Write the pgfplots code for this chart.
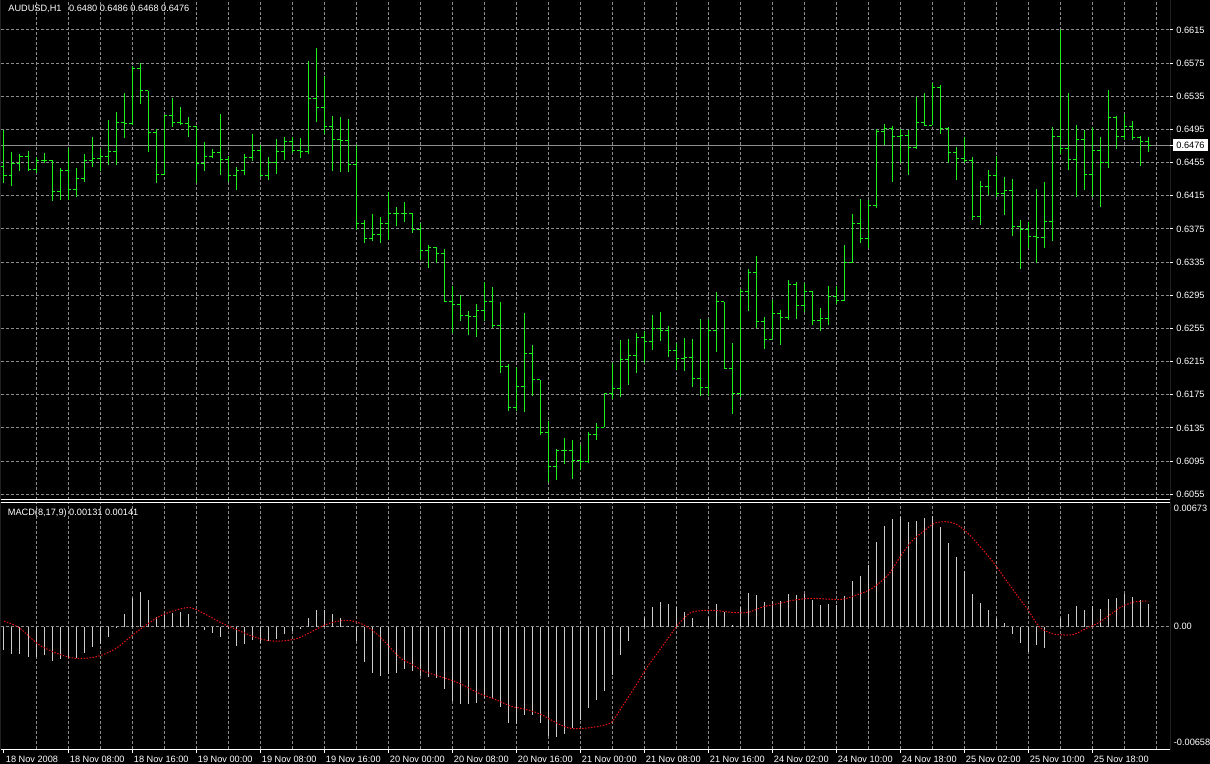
\documentclass[border=0pt]{standalone}
\usepackage{pgfplots}
\pgfplotsset{compat=1.18}
\usepackage{pgfplotstable}
\usepackage{fontspec}
\setmainfont{Liberation Sans}
\definecolor{bargreen}{RGB}{30,240,30}
\definecolor{gridc}{RGB}{140,140,140}
\definecolor{histc}{RGB}{205,205,205}
\definecolor{sigred}{RGB}{235,20,20}
\newcommand{\tfont}{\fontsize{4.6}{5.5}\selectfont}
\pgfdeclareplotmark{otick}{\pgfpathmoveto{\pgfqpoint{-1.5pt}{0pt}}\pgfpathlineto{\pgfqpoint{0pt}{0pt}}\pgfusepathqstroke}
\pgfdeclareplotmark{ctick}{\pgfpathmoveto{\pgfqpoint{0pt}{0pt}}\pgfpathlineto{\pgfqpoint{1.5pt}{0pt}}\pgfusepathqstroke}

\pgfplotstableread{
i o h l c
0 0.6450 0.6494 0.6430 0.6440
1 0.6440 0.6468 0.6427 0.6454
2 0.6454 0.6465 0.6445 0.6462
3 0.6462 0.6469 0.6445 0.6447
4 0.6447 0.6462 0.6442 0.6458
5 0.6458 0.6467 0.6454 0.6457
6 0.6457 0.6458 0.6409 0.6420
7 0.6420 0.6449 0.6410 0.6446
8 0.6446 0.6473 0.6410 0.6423
9 0.6423 0.6449 0.6414 0.6436
10 0.6436 0.6466 0.6432 0.6458
11 0.6458 0.6486 0.6450 0.6460
12 0.6460 0.6471 0.6445 0.6463
13 0.6463 0.6506 0.6452 0.6468
14 0.6468 0.6516 0.6452 0.6504
15 0.6504 0.6539 0.6485 0.6502
16 0.6502 0.6572 0.6500 0.6569
17 0.6569 0.6575 0.6526 0.6542
18 0.6542 0.6542 0.6468 0.6491
19 0.6491 0.6496 0.6431 0.6441
20 0.6441 0.6512 0.6440 0.6512
21 0.6512 0.6533 0.6498 0.6504
22 0.6504 0.6522 0.6500 0.6502
23 0.6502 0.6510 0.6486 0.6498
24 0.6498 0.6499 0.6431 0.6454
25 0.6454 0.6480 0.6445 0.6463
26 0.6463 0.6472 0.6460 0.6467
27 0.6467 0.6514 0.6440 0.6459
28 0.6459 0.6463 0.6432 0.6440
29 0.6440 0.6450 0.6422 0.6446
30 0.6446 0.6465 0.6440 0.6461
31 0.6461 0.6490 0.6457 0.6470
32 0.6470 0.6476 0.6438 0.6439
33 0.6439 0.6462 0.6434 0.6455
34 0.6455 0.6483 0.6441 0.6469
35 0.6469 0.6486 0.6458 0.6481
36 0.6481 0.6486 0.6467 0.6470
37 0.6470 0.6485 0.6460 0.6469
38 0.6469 0.6577 0.6465 0.6532
39 0.6532 0.6593 0.6504 0.6522
40 0.6522 0.6559 0.6489 0.6498
41 0.6498 0.6511 0.6445 0.6483
42 0.6483 0.6510 0.6444 0.6482
43 0.6482 0.6508 0.6444 0.6453
44 0.6453 0.6476 0.6374 0.6382
45 0.6382 0.6386 0.6358 0.6364
46 0.6364 0.6393 0.6360 0.6368
47 0.6368 0.6390 0.6358 0.6382
48 0.6382 0.6419 0.6362 0.6394
49 0.6394 0.6401 0.6378 0.6394
50 0.6394 0.6407 0.6384 0.6394
51 0.6394 0.6394 0.6370 0.6374
52 0.6374 0.6382 0.6337 0.6349
53 0.6349 0.6356 0.6328 0.6353
54 0.6353 0.6353 0.6334 0.6345
55 0.6345 0.6351 0.6287 0.6287
56 0.6287 0.6306 0.6250 0.6284
57 0.6284 0.6295 0.6264 0.6271
58 0.6271 0.6276 0.6247 0.6270
59 0.6270 0.6284 0.6245 0.6277
60 0.6277 0.6311 0.6264 0.6288
61 0.6288 0.6305 0.6256 0.6259
62 0.6259 0.6287 0.6201 0.6209
63 0.6209 0.6212 0.6156 0.6160
64 0.6160 0.6209 0.6156 0.6185
65 0.6185 0.6274 0.6154 0.6225
66 0.6225 0.6235 0.6174 0.6193
67 0.6193 0.6193 0.6126 0.6130
68 0.6130 0.6143 0.6070 0.6089
69 0.6089 0.6110 0.6072 0.6108
70 0.6108 0.6123 0.6092 0.6108
71 0.6108 0.6120 0.6074 0.6096
72 0.6096 0.6115 0.6084 0.6095
73 0.6095 0.6130 0.6093 0.6127
74 0.6127 0.6141 0.6121 0.6136
75 0.6136 0.6177 0.6136 0.6176
76 0.6176 0.6213 0.6170 0.6182
77 0.6182 0.6241 0.6172 0.6217
78 0.6217 0.6242 0.6187 0.6222
79 0.6222 0.6250 0.6201 0.6244
80 0.6244 0.6252 0.6213 0.6239
81 0.6239 0.6271 0.6229 0.6255
82 0.6255 0.6275 0.6240 0.6252
83 0.6252 0.6258 0.6221 0.6228
84 0.6228 0.6238 0.6205 0.6219
85 0.6219 0.6243 0.6204 0.6220
86 0.6220 0.6242 0.6184 0.6195
87 0.6195 0.6266 0.6174 0.6184
88 0.6184 0.6267 0.6174 0.6253
89 0.6253 0.6299 0.6227 0.6287
90 0.6287 0.6287 0.6207 0.6207
91 0.6207 0.6237 0.6152 0.6176
92 0.6176 0.6302 0.6172 0.6299
93 0.6299 0.6327 0.6276 0.6322
94 0.6322 0.6342 0.6255 0.6264
95 0.6264 0.6269 0.6230 0.6242
96 0.6242 0.6289 0.6242 0.6273
97 0.6273 0.6277 0.6235 0.6268
98 0.6268 0.6314 0.6265 0.6308
99 0.6308 0.6311 0.6267 0.6283
100 0.6283 0.6310 0.6275 0.6299
101 0.6299 0.6300 0.6259 0.6265
102 0.6265 0.6280 0.6252 0.6267
103 0.6267 0.6306 0.6259 0.6294
104 0.6294 0.6306 0.6285 0.6289
105 0.6289 0.6356 0.6288 0.6335
106 0.6335 0.6393 0.6334 0.6382
107 0.6382 0.6411 0.6358 0.6364
108 0.6364 0.6410 0.6352 0.6403
109 0.6403 0.6496 0.6400 0.6492
110 0.6492 0.6502 0.6476 0.6496
111 0.6496 0.6499 0.6432 0.6486
112 0.6486 0.6496 0.6454 0.6488
113 0.6488 0.6494 0.6440 0.6473
114 0.6473 0.6534 0.6472 0.6503
115 0.6503 0.6539 0.6499 0.6500
116 0.6500 0.6551 0.6500 0.6546
117 0.6546 0.6549 0.6490 0.6496
118 0.6496 0.6498 0.6454 0.6467
119 0.6467 0.6474 0.6434 0.6460
120 0.6460 0.6486 0.6454 0.6457
121 0.6457 0.6462 0.6386 0.6390
122 0.6390 0.6433 0.6380 0.6426
123 0.6426 0.6446 0.6416 0.6440
124 0.6440 0.6463 0.6414 0.6418
125 0.6418 0.6438 0.6392 0.6422
126 0.6422 0.6435 0.6366 0.6378
127 0.6378 0.6386 0.6327 0.6374
128 0.6374 0.6384 0.6352 0.6366
129 0.6366 0.6423 0.6334 0.6365
130 0.6365 0.6432 0.6352 0.6384
131 0.6384 0.6498 0.6360 0.6486
132 0.6486 0.6615 0.6466 0.6472
133 0.6472 0.6539 0.6446 0.6459
134 0.6459 0.6500 0.6414 0.6483
135 0.6483 0.6494 0.6422 0.6441
136 0.6441 0.6498 0.6414 0.6470
137 0.6470 0.6486 0.6401 0.6455
138 0.6455 0.6543 0.6448 0.6510
139 0.6510 0.6511 0.6472 0.6487
140 0.6487 0.6514 0.6482 0.6499
141 0.6499 0.6505 0.6482 0.6485
142 0.6485 0.6487 0.6451 0.6480
143 0.6480 0.6486 0.6468 0.6476
}\ohlc

\pgfplotstableread{
i m
0 -0.00132
1 -0.00157
2 -0.00157
3 -0.00170
4 -0.00170
5 -0.00161
6 -0.00195
7 -0.00185
8 -0.00176
9 -0.00176
10 -0.00147
11 -0.00115
12 -0.00100
13 -0.00059
14 -0.00006
15 0.00070
16 0.00161
17 0.00195
18 0.00149
19 0.00055
20 0.00070
21 0.00079
22 0.00085
23 0.00070
24 0.00002
25 -0.00019
26 -0.00034
27 -0.00059
28 -0.00015
29 -0.00110
30 -0.00100
31 -0.00076
32 -0.00091
33 -0.00081
34 -0.00072
35 -0.00040
36 -0.00025
37 -0.00015
38 0.00051
39 0.00093
40 0.00093
41 0.00070
42 0.00051
43 0.00004
44 -0.00081
45 -0.00200
46 -0.00261
47 -0.00280
48 -0.00267
49 -0.00261
50 -0.00242
51 -0.00251
52 -0.00280
53 -0.00285
54 -0.00289
55 -0.00355
56 -0.00422
57 -0.00437
58 -0.00440
59 -0.00431
60 -0.00403
61 -0.00412
62 -0.00454
63 -0.00544
64 -0.00554
65 -0.00501
66 -0.00503
67 -0.00544
68 -0.00620
69 -0.00626
70 -0.00611
71 -0.00577
72 -0.00531
73 -0.00459
74 -0.00416
75 -0.00365
76 -0.00274
77 -0.00161
78 -0.00081
79 0.00004
80 0.00057
81 0.00113
82 0.00138
83 0.00129
84 0.00113
85 0.00085
86 0.00047
87 0.00004
88 0.00053
89 0.00129
90 0.00085
91 0.00009
92 0.00113
93 0.00191
94 0.00180
95 0.00142
96 0.00146
97 0.00146
98 0.00183
99 0.00180
100 0.00183
101 0.00151
102 0.00123
103 0.00127
104 0.00123
105 0.00174
106 0.00259
107 0.00287
108 0.00350
109 0.00482
110 0.00571
111 0.00611
112 0.00624
113 0.00595
114 0.00599
115 0.00618
116 0.00630
117 0.00567
118 0.00473
119 0.00393
120 0.00316
121 0.00185
122 0.00132
123 0.00093
124 0.00047
125 0.00023
126 -0.00043
127 -0.00095
128 -0.00142
129 -0.00104
130 -0.00119
131 0.00000
132 0.00047
133 0.00072
134 0.00117
135 0.00095
136 0.00117
137 0.00100
138 0.00157
139 0.00161
140 0.00183
141 0.00170
142 0.00151
143 0.00131
}\macd

\pgfplotstableread{
x s
0 0.00032
1.9 -0.00006
4.3 -0.00100
6.7 -0.00153
9.0 -0.00180
11.4 -0.00172
13.8 -0.00129
16.2 -0.00043
17.6 0.00004
19.5 0.00060
21.4 0.00093
23.3 0.00108
25.2 0.00070
27.1 0.00023
29.0 -0.00015
31.0 -0.00053
32.9 -0.00078
34.8 -0.00081
36.7 -0.00066
38.6 -0.00025
40.0 0.00008
41.4 0.00028
42.9 0.00036
44.3 0.00023
45.7 -0.00009
47.1 -0.00062
48.1 -0.00110
49.5 -0.00176
51.0 -0.00214
52.4 -0.00251
54.3 -0.00280
56.2 -0.00308
57.6 -0.00336
59.5 -0.00380
61.4 -0.00412
63.3 -0.00450
65.2 -0.00469
67.1 -0.00497
69.0 -0.00544
70.5 -0.00573
71.9 -0.00578
73.8 -0.00569
75 -0.00558
76 -0.00539
77.4 -0.00444
78.9 -0.00340
80.3 -0.00236
81.8 -0.00142
83.3 -0.00047
84.2 0.00009
85.7 0.00076
87.2 0.00091
89.1 0.00091
91.0 0.00081
93.0 0.00081
94.9 0.00113
96.9 0.00132
98.8 0.00151
100.8 0.00161
102.7 0.00157
104.7 0.00155
106.6 0.00180
108.5 0.00217
110.5 0.00293
111.9 0.00388
113.4 0.00482
114.9 0.00539
116.3 0.00586
117.8 0.00595
119.2 0.00577
120.7 0.00520
122.2 0.00444
123.6 0.00369
125.1 0.00274
126.6 0.00180
128.0 0.00095
129.4 0.00000
130.9 -0.00038
132.4 -0.00047
133.8 -0.00043
135.3 -0.00009
136.7 0.00019
138.2 0.00066
139.7 0.00113
141.1 0.00138
142.6 0.00146
143 0.00141
}\signal

\pgfplotsset{mt/.style={
  scale only axis, clip=true,
  xmin=-0.375, xmax=145.75,
  width=584.5pt,
  axis line style={draw=none},
  tick align=outside,
  major tick length=1.5pt,
  tick style={white, line width=0.5pt},
  major grid style={gridc, line width=0.5pt, dash pattern=on 1.5pt off 1pt},
  ticklabel style={white, font=\tfont, inner sep=0pt},
  scaled x ticks=false, scaled y ticks=false,
}}

\begin{document}
\begin{tikzpicture}
\useasboundingbox (0,0) rectangle (605pt,382pt);
\fill[black] (0,0) rectangle (605pt,382pt);

% ---------- price panel ----------
\begin{axis}[mt,
  at={(0.5pt,132pt)}, anchor=south west, height=250pt,
  ymin=0.604813, ymax=0.665118,
  xtick={4,8,...,144}, xticklabels={}, xmajorticks=false, xmajorgrids=true,
  ytick={0.6055,0.6095,0.6135,0.6175,0.6215,0.6255,0.6295,0.6335,0.6375,0.6415,0.6455,0.6495,0.6535,0.6575,0.6615},
  yticklabels={0.6055,0.6095,0.6135,0.6175,0.6215,0.6255,0.6295,0.6335,0.6375,0.6415,0.6455,0.6495,0.6535,0.6575,0.6615},
  ytick pos=right, yticklabel pos=right, ymajorgrids=true,
  yticklabel style={anchor=west, xshift=1.5pt},
  extra y ticks={0.6476}, extra y tick labels={0.6476},
  extra y tick style={grid=none, tick label style={fill=white, text=black, inner xsep=1.5pt, inner ysep=1.3pt, xshift=-1.5pt}},
]
\addplot[gridc, line width=0.5pt] coordinates {(-0.375,0.6476) (145.75,0.6476)};
\addplot[bargreen, line width=0.5pt, quiver={u=0, v=\thisrow{h}-\thisrow{l}}] table[x=i, y=l] {\ohlc};
\addplot[only marks, mark=otick, mark options={bargreen, line width=0.5pt}] table[x=i, y=o] {\ohlc};
\addplot[only marks, mark=ctick, mark options={bargreen, line width=0.5pt}] table[x=i, y=c] {\ohlc};
\draw[white, line width=0.5pt] (rel axis cs:0,1) -- (rel axis cs:0,0) -- (rel axis cs:1,0) -- (rel axis cs:1,1);
\end{axis}

% ---------- MACD panel ----------
\begin{axis}[mt,
  at={(0.5pt,7.25pt)}, anchor=south west, height=123.75pt,
  ymin=-0.006963, ymax=0.007070,
  major tick length=0pt,
  xtick={4,8,...,144}, xticklabels={}, xmajorgrids=true,
  ytick={-0.00658,0,0.00673}, yticklabels={-0.00658,0.00,0.00673},
  ytick pos=right, yticklabel pos=right, ymajorgrids=false,
  yticklabel style={anchor=west, xshift=1.75pt},
]
\addplot[gridc, line width=0.5pt, dash pattern=on 1.5pt off 1pt] coordinates {(-0.375,0) (145.75,0)};
\addplot[histc, line width=0.5pt, quiver={u=0, v=\thisrow{m}}] table[x=i, y expr=0] {\macd};
\addplot[sigred, line width=0.5pt, dash pattern=on 0.75pt off 0.75pt, smooth] table[x=x, y=s] {\signal};
\draw[white, line width=0.5pt] (rel axis cs:0,0) rectangle (rel axis cs:1,1);
\end{axis}

% ---------- time labels ----------
\begin{axis}[mt,
  at={(0.5pt,7.25pt)}, anchor=south west, height=123.75pt,
  ymin=0, ymax=1, ytick=\empty,
  xtick={0,8,...,136}, xtick pos=left, major tick length=1.75pt,
  xticklabels={18 Nov 2008,18 Nov 08:00,18 Nov 16:00,19 Nov 00:00,19 Nov 08:00,19 Nov 16:00,20 Nov 00:00,20 Nov 08:00,20 Nov 16:00,21 Nov 00:00,21 Nov 08:00,21 Nov 16:00,24 Nov 02:00,24 Nov 10:00,24 Nov 18:00,25 Nov 02:00,25 Nov 10:00,25 Nov 18:00},
  xticklabel style={anchor=north west, xshift=0.75pt, yshift=-1.5pt},
]
\end{axis}

\node[anchor=base west, inner sep=0pt, white, font=\tfont] at (4pt,376pt) {AUDUSD,H1\hspace{2.5pt} 0.6480 0.6486 0.6468 0.6476};
\node[anchor=base west, inner sep=0pt, white, font=\tfont] at (3.75pt,124.25pt) {MACD(8,17,9) 0.00131 0.00141};
\end{tikzpicture}
\end{document}
